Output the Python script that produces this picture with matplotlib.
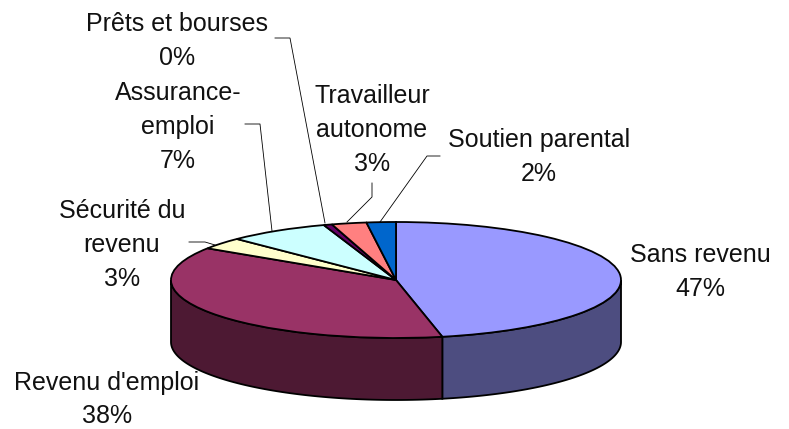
import numpy as np
import matplotlib
matplotlib.use("Agg")
import matplotlib.pyplot as plt

categories = ["Sans revenu", "Revenu d'emploi", "Sécurité du\nrevenu", "Assurance-\nemploi",
              "Prêts et bourses", "Travailleur\nautonome", "Soutien parental"]
values = [46.7, 37.5, 3.3, 7.3, 0.6, 2.5, 2.1]
percent_labels = ["47%", "38%", "3%", "7%", "0%", "3%", "2%"]
top_colors = ["#9999FF", "#993366", "#FFFFCC", "#CCFFFF", "#660066", "#FF8080", "#0066CC"]
side_colors = ["#4D4D80", "#4D1933", "#808066", "#668080", "#330033", "#804040", "#003366"]

W, H = 789, 429
plt.rcParams["font.family"] = ["Liberation Sans", "DejaVu Sans"]
fig = plt.figure(figsize=(W / 100, H / 100), dpi=100)

# overlay in pixel coordinates for the labels and leader lines
overlay = fig.add_axes([0, 0, 1, 1], zorder=3)
overlay.set_xlim(0, W)
overlay.set_ylim(H, 0)
overlay.axis("off")

# the pie is an ordinary pie in a flattened axes, which gives the ellipse
left, right, top, bottom = 171, 621, 222, 338
depth = 62 / ((bottom - top) / 2)
ax = fig.add_axes([left / W, 1 - bottom / H, (right - left) / W, (bottom - top) / H], zorder=2)
ax.pie(values, colors=top_colors, startangle=90, counterclock=False, radius=1,
       wedgeprops=dict(edgecolor="black", linewidth=1.3, clip_on=False, zorder=3))
ax.set_aspect("auto")
ax.set_xlim(-1, 1)
ax.set_ylim(-1, 1)

# side wall, only the part of each slice facing the viewer
edges = 90 - 360 * np.cumsum([0] + values) / sum(values)
for i, col in enumerate(side_colors):
    a0 = min(edges[i], 0)
    a1 = max(edges[i + 1], -180)
    if a0 <= a1:
        continue
    t = np.radians(np.linspace(a0, a1, 80))
    xs = np.r_[np.cos(t), np.cos(t[::-1])]
    ys = np.r_[np.sin(t), np.sin(t[::-1]) - depth]
    ax.fill(xs, ys, facecolor=col, edgecolor="black", linewidth=1.3, clip_on=False, zorder=1)

# label centres and first baseline, in pixels
label_pos = [(700, 262), (107, 390), (122, 218), (178, 100), (177, 31), (372, 103), (539, 147)]
line_step = 34
for name, pct, (x, y) in zip(categories, percent_labels, label_pos):
    lines = name.split("\n") + [pct]
    for j, line in enumerate(lines):
        # the bottom label sits tight against the edge of the picture
        step = 33 if y > 380 else line_step
        overlay.text(x, y + j * step, line, ha="center", va="baseline",
                     fontsize=18, color="#111111")

leaders = [
    ([275, 290, 325], [38, 38, 223]),
    ([245, 260, 272], [124, 124, 231]),
    ([372, 372, 347], [183, 197, 222]),
    ([440, 427, 380], [156, 156, 222]),
    ([189, 205, 215], [242, 242, 245]),
]
for xs, ys in leaders:
    overlay.plot(xs, ys, color="black", linewidth=0.6)

fig.savefig("out.png", dpi=100)
